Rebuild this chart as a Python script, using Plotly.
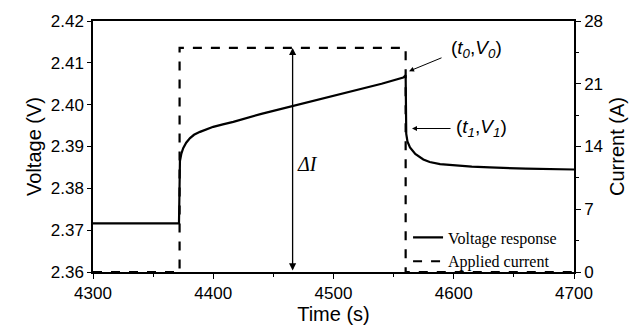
import plotly.graph_objects as go

# Voltage response to a current pulse
time_v = [4300, 4371.5, 4372.3, 4373.5, 4375, 4377.5, 4380.7, 4384, 4389, 4394, 4400, 4408,
          4416.7, 4440, 4466.6, 4490, 4513.7, 4540, 4558, 4560, 4560.5, 4561.5, 4563.6, 4568,
          4574.7, 4580, 4588.6, 4600, 4615, 4630, 4660, 4700]
voltage = [2.3716, 2.3716, 2.3865, 2.3883, 2.3896, 2.3909, 2.3920, 2.3928, 2.3935, 2.3941,
           2.3947, 2.3953, 2.3959, 2.3978, 2.3997, 2.4015, 2.4032, 2.4050, 2.4065, 2.4070,
           2.3930, 2.3912, 2.3898, 2.3882, 2.3869, 2.3863, 2.3858, 2.3855, 2.3852, 2.3850,
           2.3847, 2.3845]

# Applied current step
time_i = [4300, 4372, 4372, 4560, 4560, 4700]
current = [0, 0, 25, 25, 0, 0]

fig = go.Figure()
fig.add_trace(go.Scatter(x=time_v, y=voltage, mode="lines", name="Voltage response",
                         line=dict(color="black", width=2.2)))
fig.add_trace(go.Scatter(x=time_i, y=current, mode="lines", name="Applied current",
                         yaxis="y2", line=dict(color="black", width=2.2, dash="dash")))

sans = "Liberation Sans, Arial, sans-serif"
serif = "Liberation Serif, Times New Roman, serif"
axis_font = dict(family=sans, size=17, color="black")
title_font = dict(family=sans, size=20, color="black")

fig.update_layout(
    width=640, height=330,
    margin=dict(l=93, r=66, t=18, b=58),
    plot_bgcolor="white", paper_bgcolor="white",
    showlegend=True,
    legend=dict(x=0.655, y=0.205, xanchor="left", yanchor="top",
                bgcolor="rgba(0,0,0,0)", borderwidth=0,
                font=dict(family=serif, size=16, color="black"),
                tracegroupgap=0, itemwidth=30),
    xaxis=dict(range=[4300, 4700], tickvals=[4300, 4400, 4500, 4600, 4700],
               ticks="outside", ticklen=5, tickwidth=1.2, tickcolor="black",
               minor=dict(tickvals=[4350, 4450, 4550, 4650], ticks="outside", ticklen=3, tickcolor="black"),
               showline=True, linecolor="black", linewidth=1.5, mirror=True,
               showgrid=False, zeroline=False, tickfont=axis_font,
               title=dict(text="Time (s)", font=title_font, standoff=0)),
    yaxis=dict(range=[2.36, 2.42], tickvals=[2.36, 2.37, 2.38, 2.39, 2.40, 2.41, 2.42],
               tickformat=".2f", ticks="outside", ticklen=4, tickwidth=1.2, tickcolor="black",
               showline=True, linecolor="black", linewidth=1.5,
               showgrid=False, zeroline=False, tickfont=axis_font,
               title=dict(text="Voltage (V)", font=title_font, standoff=4)),
    yaxis2=dict(range=[0, 28], tickvals=[0, 7, 14, 21, 28], overlaying="y", side="right",
                ticks="outside", ticklen=5, tickwidth=1.2, tickcolor="black",
                minor=dict(tickvals=[3.5, 10.5, 17.5, 24.5], ticks="outside", ticklen=3, tickcolor="black"),
                showline=True, linecolor="black", linewidth=1.5,
                showgrid=False, zeroline=False, tickfont=axis_font,
                title=dict(text="Current (A)", font=title_font, standoff=8)),
)

label_font = dict(family=sans, size=19, color="black")

# ΔI double-headed arrow
fig.add_annotation(x=4466, y=25, ax=4466, ay=0, xref="x", yref="y2", axref="x", ayref="y2",
                   text="", showarrow=True, arrowhead=2, arrowside="end+start",
                   arrowsize=1.1, arrowwidth=1.3, arrowcolor="black")
fig.add_annotation(x=4468, y=12.0, xref="x", yref="y2", text="<i>ΔI</i>", showarrow=False,
                   xanchor="left", font=dict(family=serif, size=20, color="black"))

# (t0, V0) and (t1, V1) markers
fig.add_annotation(x=4562.8, y=2.4080, xref="x", yref="y", ax=34, ay=-14,
                   text="", showarrow=True, arrowhead=2, arrowsize=1, arrowwidth=1,
                   arrowcolor="black")
fig.add_annotation(x=4596, y=2.4134, xref="x", yref="y", xanchor="left", showarrow=False,
                   text="(<i>t</i><sub><i>0</i></sub>,<i>V</i><sub><i>0</i></sub>)", font=label_font)
fig.add_annotation(x=4565.3, y=2.3943, xref="x", yref="y", ax=40, ay=0,
                   text="", showarrow=True, arrowhead=2, arrowsize=1, arrowwidth=1,
                   arrowcolor="black")
fig.add_annotation(x=4600, y=2.3945, xref="x", yref="y", xanchor="left", showarrow=False,
                   text="(<i>t</i><sub><i>1</i></sub>,<i>V</i><sub><i>1</i></sub>)", font=label_font)

fig.write_html("out.html")
